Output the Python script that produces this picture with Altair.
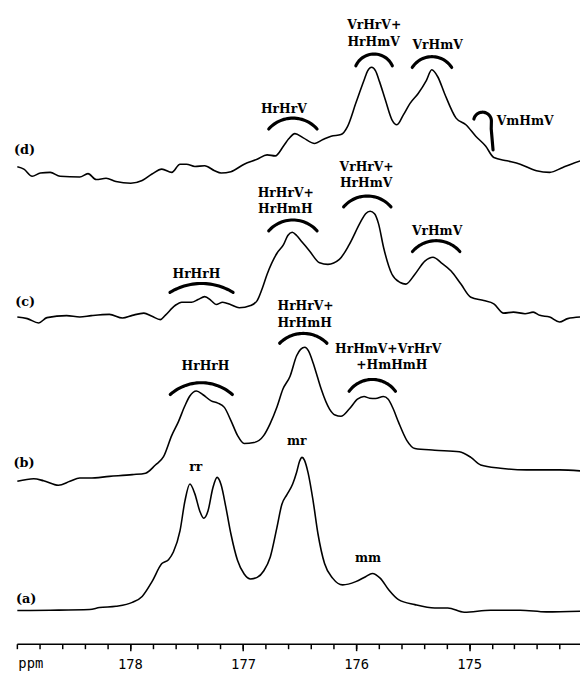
import math
import altair as alt
import pandas as pd

# ---------------- axis ----------------
PPM_LEFT, PPM_RIGHT = 179.0, 174.02
W, H = 571, 640
major_ticks = [178, 177, 176, 175]
minor_ticks = [179.0, 178.8, 178.6, 178.4, 178.2, 178.0, 177.8, 177.6, 177.4, 177.2,
               177.0, 176.8, 176.6, 176.4, 176.2, 176.0, 175.8, 175.6, 175.4, 175.2,
               175.0, 174.8, 174.6, 174.4, 174.2]

# ---------------- spectra (ppm, stacked intensity) ----------------
a_ppm = [178.996, 178.705, 178.357, 178.269, 178.124, 177.979, 177.892, 177.805, 177.718, 177.659,
         177.616, 177.557, 177.514, 177.470, 177.426, 177.383, 177.348, 177.310, 177.267, 177.229,
         177.194, 177.151, 177.107, 177.049, 176.990, 176.933, 176.875, 176.816, 176.759, 176.700,
         176.657, 176.613, 176.561, 176.526, 176.500, 176.478, 176.456, 176.424, 176.380, 176.337,
         176.279, 176.206, 176.119, 176.003, 175.916, 175.857, 175.785, 175.712, 175.625, 175.480,
         175.305, 175.189, 175.044, 174.811, 174.549, 174.318, 174.015]
a_int = [33.7, 34.0, 34.7, 36.7, 38.0, 42.0, 48.0, 63.0, 81.3, 85.3,
         93.0, 114.7, 144.7, 162.0, 152.0, 134.7, 127.3, 134.7, 158.0, 168.7,
         161.3, 138.0, 111.3, 84.7, 70.7, 65.7, 67.3, 74.0, 88.0, 118.0,
         141.3, 151.0, 162.0, 174.0, 185.0, 189.0, 186.0, 173.0, 144.7, 111.3,
         81.3, 66.3, 59.7, 63.0, 68.0, 71.3, 66.3, 54.7, 44.7, 39.7,
         36.3, 36.3, 32.0, 34.0, 34.0, 32.3, 33.0]

b_ppm = [178.996, 178.851, 178.764, 178.633, 178.531, 178.444, 178.357, 178.182, 177.979, 177.862,
         177.775, 177.703, 177.630, 177.572, 177.514, 177.472, 177.412, 177.354, 177.282, 177.223,
         177.165, 177.107, 177.049, 176.990, 176.903, 176.816, 176.761, 176.700, 176.648, 176.584,
         176.526, 176.491, 176.453, 176.421, 176.380, 176.343, 176.308, 176.235, 176.186, 176.134,
         176.061, 175.988, 175.930, 175.881, 175.828, 175.759, 175.716, 175.671, 175.625, 175.552,
         175.480, 175.305, 175.087, 174.985, 174.898, 174.724, 174.492, 174.338, 174.201, 174.015]
b_int = [164.7, 167.3, 165.3, 160.7, 164.7, 168.0, 168.0, 169.7, 171.5, 173.0,
         181.3, 189.7, 211.3, 225.0, 241.3, 251.0, 256.3, 252.5, 246.3, 244.0,
         239.7, 226.3, 211.3, 203.0, 204.0, 211.3, 223.0, 240.0, 258.0, 271.3,
         292.0, 298.5, 300.7, 297.0, 284.7, 271.0, 258.0, 238.0, 232.0, 230.7,
         238.0, 248.0, 250.7, 249.0, 248.7, 250.7, 248.0, 238.0, 224.7, 206.3,
         198.0, 196.3, 194.7, 189.0, 181.3, 178.0, 176.3, 176.3, 176.3, 175.3]

c_ppm = [178.996, 178.908, 178.807, 178.734, 178.560, 178.444, 178.342, 178.182, 178.066, 177.979,
         177.877, 177.805, 177.731, 177.688, 177.601, 177.543, 177.456, 177.398, 177.339, 177.282,
         177.238, 177.180, 177.107, 177.034, 176.933, 176.875, 176.831, 176.787, 176.700, 176.642,
         176.604, 176.565, 176.526, 176.482, 176.410, 176.323, 176.249, 176.148, 176.061, 175.959,
         175.916, 175.876, 175.837, 175.802, 175.756, 175.683, 175.610, 175.561, 175.480, 175.392,
         175.320, 175.247, 175.160, 175.073, 174.985, 174.871, 174.782, 174.695, 174.609, 174.506,
         174.434, 174.376, 174.288, 174.201, 174.129, 174.015]
c_int = [331.3, 329.7, 325.3, 330.7, 332.7, 331.3, 332.7, 334.0, 330.3, 333.0,
         335.3, 332.0, 328.7, 333.0, 343.0, 346.3, 346.3, 349.0, 352.0, 348.0,
         344.0, 346.3, 343.7, 340.7, 343.0, 348.0, 360.0, 374.7, 396.0, 404.7,
         414.0, 417.3, 414.0, 408.0, 398.0, 386.3, 384.7, 389.7, 404.7, 428.0,
         436.0, 438.5, 436.0, 426.0, 401.3, 374.7, 366.3, 364.7, 374.7, 388.0,
         392.0, 386.3, 378.0, 364.7, 351.3, 348.0, 344.7, 335.3, 336.3, 334.7,
         336.3, 333.0, 331.3, 326.3, 329.7, 331.3]

d_ppm = [178.996, 178.938, 178.865, 178.792, 178.705, 178.618, 178.444, 178.371, 178.298, 178.211,
         178.124, 177.993, 177.892, 177.805, 177.718, 177.630, 177.557, 177.500, 177.426, 177.339,
         177.252, 177.194, 177.107, 176.990, 176.875, 176.787, 176.715, 176.642, 176.596, 176.541,
         176.467, 176.366, 176.293, 176.221, 176.134, 176.075, 176.003, 175.930, 175.898, 175.863,
         175.828, 175.793, 175.741, 175.683, 175.639, 175.582, 175.523, 175.451, 175.378, 175.331,
         175.277, 175.218, 175.116, 175.029, 174.942, 174.855, 174.782, 174.666, 174.549, 174.405,
         174.288, 174.172, 174.099, 174.015]
d_int = [483.7, 481.3, 474.0, 477.3, 478.0, 474.0, 473.3, 476.7, 470.7, 472.0,
         468.7, 467.0, 469.7, 476.3, 481.3, 478.0, 486.3, 486.3, 484.0, 484.7,
         479.7, 477.3, 478.7, 486.3, 491.3, 495.7, 494.7, 504.7, 512.0, 517.3,
         513.0, 507.3, 511.3, 514.7, 516.3, 524.7, 548.0, 571.3, 581.0, 584.5,
         581.0, 570.0, 551.3, 531.3, 526.3, 536.3, 548.0, 558.0, 571.3, 582.0,
         574.7, 558.0, 533.0, 526.3, 514.7, 504.7, 493.0, 489.7, 486.3, 479.7,
         478.0, 483.0, 486.3, 489.7]

# ---------------- annotation arcs: centre ppm, top, radius, start/end angle ----------------
arc_id = ["b1", "b2", "b3", "c1", "c2", "c3", "c4", "d1", "d2", "d3", "hook"]
arc_ppm = [177.369, 176.467, 175.857, 177.367, 176.559, 175.901, 175.292, 176.559, 175.841, 175.329, 174.882]
arc_top = [264.7, 314.7, 268.0, 365.3, 429.7, 454.0, 408.7, 533.0, 598.0, 595.3, 539.0]
arc_r = [47.3, 33.8, 29.0, 61.4, 32.8, 31.7, 31.7, 32.8, 20.3, 23.7, 9.0]
arc_t0 = [-0.728, -0.789, -0.945, -0.548, -0.844, -0.859, -0.859, -0.844, -1.146, -1.003, -1.34]
arc_t1 = [0.728, 0.789, 0.945, 0.548, 0.844, 0.859, 0.859, 0.844, 1.146, 1.003, 1.571]
hook_leg_ppm = [174.805, 174.789]
hook_leg_int = [522.0, 500.7]

# ---------------- text ----------------
center_text = ["HrHrH", "HrHrV+", "HrHmH", "HrHmV+VrHrV", "+HmHmH", "rr", "mr", "mm",
               "HrHrH", "HrHrV+", "HrHmH", "VrHrV+", "HrHmV", "VrHmV",
               "HrHrV", "VrHrV+", "HrHmV", "VrHmV"]
center_ppm = [177.332, 176.447, 176.455, 175.716, 175.684, 177.419, 176.526, 175.894,
              177.412, 176.622, 176.626, 175.907, 175.912, 175.284,
              176.639, 175.840, 175.845, 175.279]
center_int = [278.0, 338.0, 321.3, 294.7, 278.7, 174.7, 201.3, 83.0,
              370.7, 453.0, 436.3, 479.7, 463.0, 414.7,
              538.0, 623.0, 606.3, 603.0]
left_text = ["VmHmV"]
left_ppm = [174.757]
left_int = [525.7]
panel_text = ["(a)", "(b)", "(c)", "(d)"]
panel_ppm = [179.008, 179.03, 179.015, 179.025]
panel_int = [41.3, 179.0, 342.3, 496.3]

# ---------------- build tables ----------------
rows = []
for name, pp, ii in [("a", a_ppm, a_int), ("b", b_ppm, b_int), ("c", c_ppm, c_int), ("d", d_ppm, d_int)]:
    for k, (p, v) in enumerate(zip(pp, ii)):
        rows.append({"trace": name, "i": k, "ppm": p, "inten": v})
spec_df = pd.DataFrame(rows)

px_per_ppm = W / (PPM_LEFT - PPM_RIGHT)
arc_rows = []
n = 30
for aid, cx, top, r, t0, t1 in zip(arc_id, arc_ppm, arc_top, arc_r, arc_t0, arc_t1):
    for k in range(n + 1):
        t = t0 + (t1 - t0) * k / n
        arc_rows.append({"arc": aid, "i": k,
                         "ppm": cx - r * math.sin(t) / px_per_ppm,
                         "inten": top - r + r * math.cos(t)})
    if aid == "hook":
        for j, (p, v) in enumerate(zip(hook_leg_ppm, hook_leg_int)):
            arc_rows.append({"arc": aid, "i": n + 1 + j, "ppm": p, "inten": v})
arc_df = pd.DataFrame(arc_rows)

ctext_df = pd.DataFrame({"label": center_text, "ppm": center_ppm, "inten": center_int})
ltext_df = pd.DataFrame({"label": left_text, "ppm": left_ppm, "inten": left_int})
ptext_df = pd.DataFrame({"label": panel_text, "ppm": panel_ppm, "inten": panel_int})

xs = alt.Scale(domain=[PPM_LEFT, PPM_RIGHT], nice=False, zero=False)
ys = alt.Scale(domain=[0, H], nice=False, zero=False)

minor_axis = alt.Axis(
    orient="bottom", values=minor_ticks, labels=False, title=None,
    tickSize=5, tickColor="black", tickWidth=1.5,
    domain=True, domainColor="black", domainWidth=1.6, grid=False,
)
major_axis = alt.Axis(
    orient="bottom", values=major_ticks, format="d",
    title="ppm",
    titleX=1, titleY=24.5, titleAlign="left", titleBaseline="alphabetic",
    titleFont="DejaVu Sans Mono", titleFontSize=14, titleFontWeight="normal", titleColor="black",
    labelFont="DejaVu Sans Mono", labelFontSize=14, labelColor="black",
    labelBaseline="alphabetic", labelPadding=17.7, labelFlush=False,
    tickSize=7, tickColor="black", tickWidth=1.5,
    domain=False, grid=False,
)

traces = alt.Chart(spec_df).mark_line(color="black", strokeWidth=1.6, interpolate="monotone", clip=False).encode(
    x=alt.X("ppm:Q", scale=xs, axis=minor_axis),
    y=alt.Y("inten:Q", scale=ys, axis=None),
    detail="trace:N",
    order="i:Q",
)

arcs = alt.Chart(arc_df).mark_line(color="black", strokeWidth=3.2, strokeCap="round", clip=False).encode(
    x=alt.X("ppm:Q", scale=xs, axis=None),
    y=alt.Y("inten:Q", scale=ys, axis=None),
    detail="arc:N",
    order="i:Q",
)

ctext = alt.Chart(ctext_df).mark_text(font="DejaVu Serif", fontWeight="bold", fontSize=12.5,
                                      align="center", baseline="alphabetic", color="black").encode(
    x=alt.X("ppm:Q", scale=xs, axis=major_axis),
    y=alt.Y("inten:Q", scale=ys, axis=None),
    text="label:N",
)
ltext = alt.Chart(ltext_df).mark_text(font="DejaVu Serif", fontWeight="bold", fontSize=12.5,
                                      align="left", baseline="alphabetic", color="black").encode(
    x=alt.X("ppm:Q", scale=xs, axis=None),
    y=alt.Y("inten:Q", scale=ys, axis=None),
    text="label:N",
)
ptext = alt.Chart(ptext_df).mark_text(font="DejaVu Serif", fontWeight="bold", fontSize=13,
                                      align="left", baseline="alphabetic", color="black").encode(
    x=alt.X("ppm:Q", scale=xs, axis=None),
    y=alt.Y("inten:Q", scale=ys, axis=None),
    text="label:N",
)

chart = alt.layer(traces, arcs, ctext, ltext, ptext).resolve_axis(x="independent").properties(
    width=W, height=H,
    autosize=alt.AutoSizeParams(type="none"),
    padding={"left": 9, "top": 0, "right": 0, "bottom": 26},
    background="white",
).configure_view(stroke=None)

chart.save("out.html", embed_options={"renderer": "svg", "actions": False})
